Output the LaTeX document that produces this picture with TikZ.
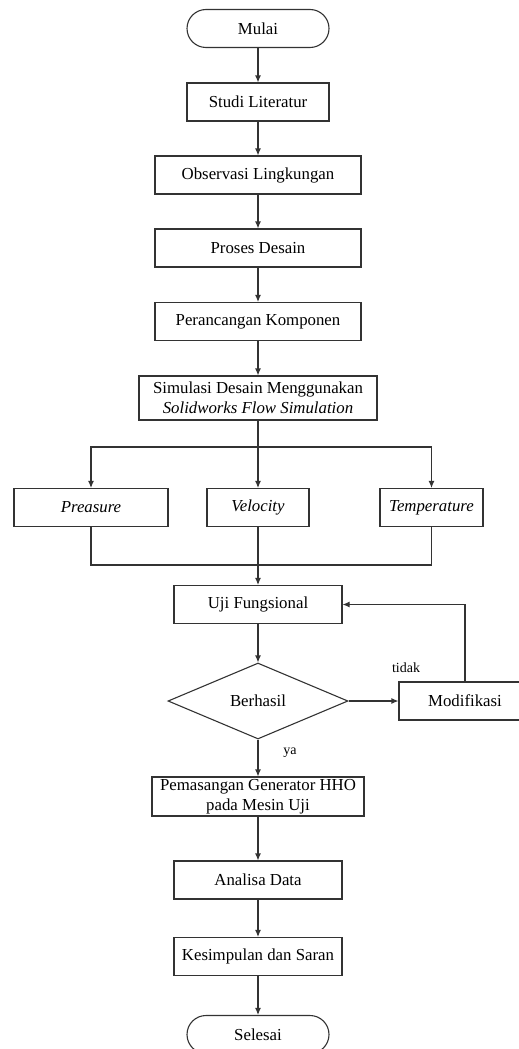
\documentclass[tikz,border=0pt]{standalone}
\usepackage{fontspec}
\setmainfont{Liberation Serif}
\usetikzlibrary{shapes.geometric,arrows.meta}

\begin{document}
\begin{tikzpicture}[x=1pt, y=-1pt,
    font=\fontsize{16.8}{19.5}\selectfont,
    garis/.style={draw=black!80, line width=1.1pt},
    panah/.style={garis, -{Latex[length=7pt,width=6pt]}},
    kotak/.style={garis, rectangle, inner sep=0pt, minimum height=38pt, align=center},
    terminal/.style={kotak, rounded corners=19pt, minimum width=142pt},
    keputusan/.style={garis, diamond, inner sep=0pt, aspect=2.4, minimum width=180pt, minimum height=76pt},
    label/.style={font=\fontsize{14}{16}\selectfont}]

\useasboundingbox (0,0) rectangle (519,1049);

% alur utama
\node[terminal] (mulai) at (258,28.5) {Mulai};
\node[kotak, minimum width=142pt] (studi) at (258,102) {Studi Literatur};
\node[kotak, minimum width=206pt] (observasi) at (258,175) {Observasi Lingkungan};
\node[kotak, minimum width=206pt] (proses) at (258,248) {Proses Desain};
\node[kotak, minimum width=206pt] (rancang) at (258,321.5) {Perancangan Komponen};
\node[kotak, minimum width=238pt, minimum height=44pt] (simulasi) at (258,398)
    {Simulasi Desain Menggunakan\\\textit{Solidworks Flow Simulation}};

% hasil simulasi
\node[kotak, minimum width=154pt] (preasure) at (91,507.5) {\textit{Preasure}};
\node[kotak, minimum width=102pt] (velocity) at (258,507.5) {\textit{Velocity}};
\node[kotak, minimum width=103pt] (temperature) at (431.5,507.5) {\textit{Temperature}};

% pengujian
\node[kotak, minimum width=168pt] (uji) at (258,604.5) {Uji Fungsional};
\node[keputusan] (berhasil) at (258,701) {Berhasil};
\node[kotak, minimum width=132pt] (modifikasi) at (465,701) {Modifikasi};
\node[kotak, minimum width=212pt, minimum height=39pt] (pasang) at (258,796.5)
    {Pemasangan Generator HHO\\pada Mesin Uji};
\node[kotak, minimum width=168pt] (analisa) at (258,880) {Analisa Data};
\node[kotak, minimum width=168pt] (simpul) at (258,956.5) {Kesimpulan dan Saran};
\node[terminal] (selesai) at (258,1034.5) {Selesai};

% label cabang
\node[label] (tidak) at (406,668) {tidak};
\node[label] (ya) at (290,753) {ya};

% panah lurus
\draw[panah] (mulai) -- (studi);
\draw[panah] (studi) -- (observasi);
\draw[panah] (observasi) -- (proses);
\draw[panah] (proses) -- (rancang);
\draw[panah] (rancang) -- (simulasi);
\draw[panah] (simulasi) -- (velocity);
\draw[panah] (velocity) -- (uji);
\draw[panah] (uji) -- (berhasil);
\draw[panah] (berhasil) -- (modifikasi);
\draw[panah] (berhasil) -- (pasang);
\draw[panah] (pasang) -- (analisa);
\draw[panah] (analisa) -- (simpul);
\draw[panah] (simpul) -- (selesai);

% percabangan simulasi
\coordinate (cabang) at (258,447);
\draw[panah] (cabang) -| (preasure.north);
\draw[panah] (cabang) -| (temperature.north);
\coordinate (gabung) at (258,565);
\draw[garis] (preasure.south) |- (gabung) -| (temperature.south);

% umpan balik modifikasi
\draw[panah] (modifikasi.north) |- (uji.east);

\end{tikzpicture}
\end{document}
